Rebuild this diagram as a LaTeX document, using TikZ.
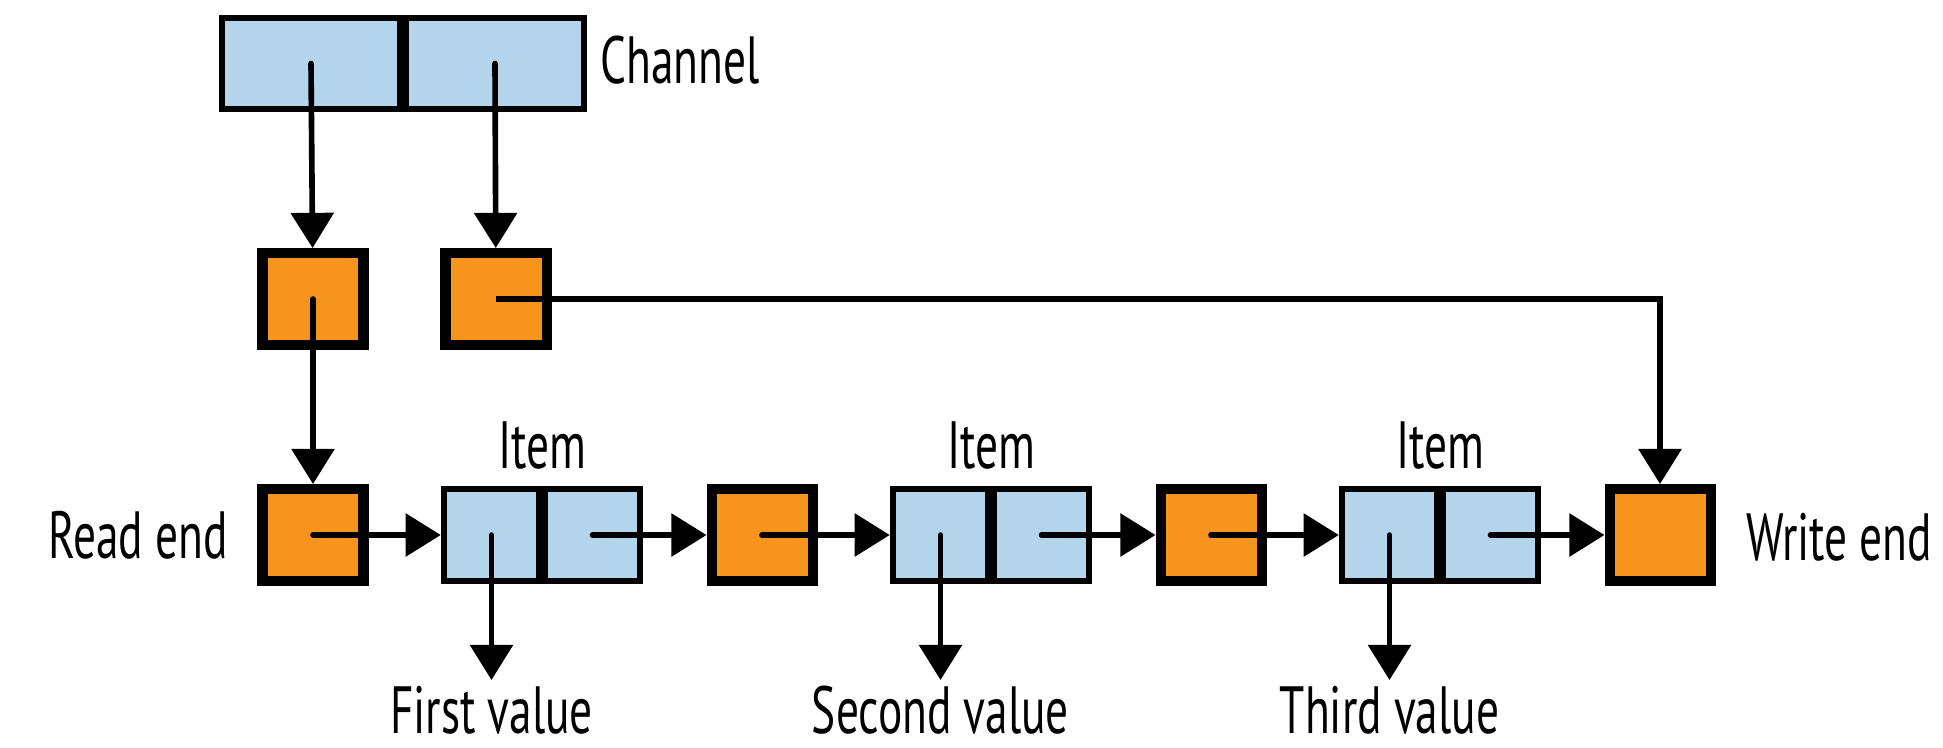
\documentclass[tikz,border=0pt]{standalone}
\usepackage{fontspec}
\setmainfont{PT Sans}[FakeStretch=0.68]
\usetikzlibrary{arrows.meta,positioning}
\definecolor{chanblue}{HTML}{B3D4EA}
\definecolor{ptrorange}{HTML}{F7941D}

\begin{document}
\begin{tikzpicture}[node distance=2.245cm, on grid,
    font=\fontsize{19}{21}\selectfont,
    cell/.style={draw, line width=1.7pt, fill=chanblue, minimum width=0.955cm, minimum height=0.92cm, inner sep=0pt},
    ptr/.style={draw, line width=2.85pt, fill=ptrorange, minimum width=1.01cm, minimum height=0.92cm, inner sep=0pt},
    link/.style={line width=1.6pt, line cap=round, -{Triangle[width=12pt,length=10pt]}},
    txt/.style={inner sep=0pt}]
    \useasboundingbox (0,0) rectangle (19.43,-7.47);

    % channel and its two pointers
    \node[cell, minimum width=1.78cm, minimum height=0.91cm] (ch_1) at (3.11,-0.635) {};
    \node[cell, minimum width=1.78cm, minimum height=0.91cm] [right=1.84cm of ch_1] (ch_2) {};
    \node[txt, anchor=base west] (chan) at ([xshift=0.13cm, yshift=-0.195cm]ch_2.east) {Channel};
    \node[ptr] (head) at (3.13,-2.99) {};
    \node[ptr] [right=1.83cm of head] (tail) {};

    % the list
    \node[ptr] (read) at (3.13,-5.35) {};
    \node[cell] [right=1.785cm of read] (a_1) {};
    \node[cell] [right=1.01cm of a_1] (b_1) {};
    \node[ptr] [right=1.695cm of b_1] (p_2) {};
    \node[cell] [right=1.785cm of p_2] (a_2) {};
    \node[cell] [right=1.01cm of a_2] (b_2) {};
    \node[ptr] [right=1.695cm of b_2] (p_3) {};
    \node[cell] [right=1.785cm of p_3] (a_3) {};
    \node[cell] [right=1.01cm of a_3] (b_3) {};
    \node[ptr] [right=1.695cm of b_3] (write) {};

    \node[txt, anchor=base east] (rlabel) at ([xshift=-0.29cm, yshift=-0.23cm]read.west) {Read end};
    \node[txt, anchor=base west] (wlabel) at ([xshift=0.3cm, yshift=-0.25cm]write.east) {Write end};
    \node[txt, anchor=base] (item_1) at ([yshift=0.18cm]a_1.north east) {Item};
    \node[txt, anchor=base] (item_2) at ([yshift=0.18cm]a_2.north east) {Item};
    \node[txt, anchor=base] (item_3) at ([yshift=0.18cm]a_3.north east) {Item};

    \coordinate [below=1.45cm of a_1] (v_1);
    \coordinate [below=1.45cm of a_2] (v_2);
    \coordinate [below=1.45cm of a_3] (v_3);
    \node[txt, anchor=base] (val_1) at ([yshift=-0.53cm]v_1) {First value};
    \node[txt, anchor=base] (val_2) at ([yshift=-0.53cm]v_2) {Second value};
    \node[txt, anchor=base] (val_3) at ([yshift=-0.53cm]v_3) {Third value};

    \path[link]
    (ch_1.center) edge (head)
    (ch_2.center) edge (tail)
    (head.center) edge (read)
    (read.center) edge (a_1)
    (b_1.center) edge (p_2)
    (p_2.center) edge (a_2)
    (b_2.center) edge (p_3)
    (p_3.center) edge (a_3)
    (b_3.center) edge (write)
    (a_1.center) edge (v_1)
    (a_2.center) edge (v_2)
    (a_3.center) edge (v_3)
    ;
    \draw[link, line cap=butt] (tail.center) -| (write);
\end{tikzpicture}
\end{document}
